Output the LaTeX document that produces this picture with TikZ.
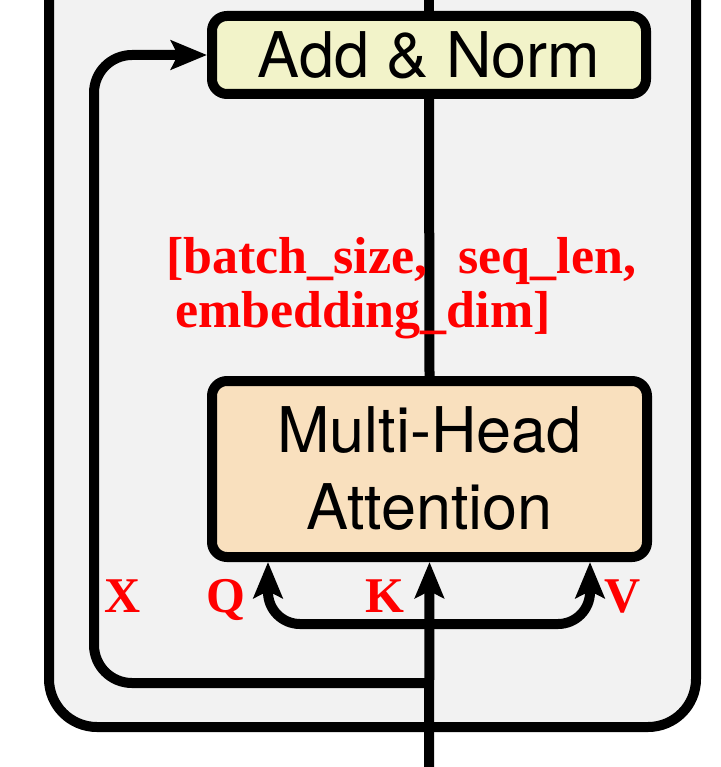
\documentclass[tikz,border=0pt]{standalone}
\usepackage{fontspec}
\setmainfont{TeX Gyre Heros}
\newfontfamily\labelfont{Liberation Serif}
\usetikzlibrary{arrows.meta}
\definecolor{outerfill}{RGB}{242,242,242}
\definecolor{anfill}{RGB}{242,243,201}
\definecolor{mhafill}{RGB}{249,224,190}
\definecolor{lblred}{RGB}{255,0,0}
\tikzset{
  blk/.style={draw=black, line width=10pt, rounded corners=15pt, inner sep=0pt},
  conn/.style={draw=black, line width=10pt},
  arr/.style={conn, -{Stealth[length=36pt, width=29pt, inset=7pt]}},
  dbl/.style={conn, {Stealth[length=36pt, width=29pt, inset=7pt]}-{Stealth[length=36pt, width=29pt, inset=7pt]}},
  redlbl/.style={text=lblred, font=\labelfont\bfseries\fontsize{50}{54}\selectfont, inner sep=0pt},
  redshape/.style={text=lblred, font=\labelfont\bfseries\fontsize{52}{56}\selectfont, inner sep=0pt},
  boxtext/.style={font=\fontsize{63}{77}\selectfont, align=center}
}
\begin{document}
\begin{tikzpicture}[x=1pt, y=-1pt]
\useasboundingbox (0,0) rectangle (720,767);
\clip (0,0) rectangle (720,767);
\fill[white] (0,0) rectangle (720,767);
% outer block
\draw[line width=10pt, fill=outerfill, rounded corners=48pt] (49,-120) rectangle (696,727);
% nodes
\node[blk, fill=anfill, minimum width=434pt, minimum height=78pt, boxtext] (an) at (429,55) {Add \& Norm};
\node[blk, fill=mhafill, minimum width=435pt, minimum height=176pt, boxtext] (mha) at (429.5,469) {Multi-Head\\Attention};
% coordinates
\coordinate (top) at (429,-20);
\coordinate (in) at (429,790);
\coordinate (rs) at (429,683);
\coordinate (rl) at (94,683);
\coordinate (qx) at (268,624);
\coordinate (vx) at (590,624);
% connectors
\draw[conn] (top) -- (an.north);
\draw[conn] (an.south) -- (mha.north);
\draw[arr] (in) -- (mha.south);
\draw[arr, rounded corners=38pt] (rs) -- (rl) |- (an.west);
\draw[dbl, rounded corners=32pt] (qx |- mha.south) -- (qx) -- (vx) -- (vx |- mha.south);
% labels
\node[redshape, anchor=base west] (shape1) at (166,273) {[batch\_size,\hspace{31pt}seq\_len,};
\node[redshape, anchor=base west] (shape2) at (175,327) {embedding\_dim]};
\node[redlbl, anchor=base] (lx) at (123,612) {X};
\node[redlbl, anchor=base] (lq) at (226,612) {Q};
\node[redlbl, anchor=base] (lk) at (385,612) {K};
\node[redlbl, anchor=base] (lv) at (623,612) {V};
\end{tikzpicture}
\end{document}
